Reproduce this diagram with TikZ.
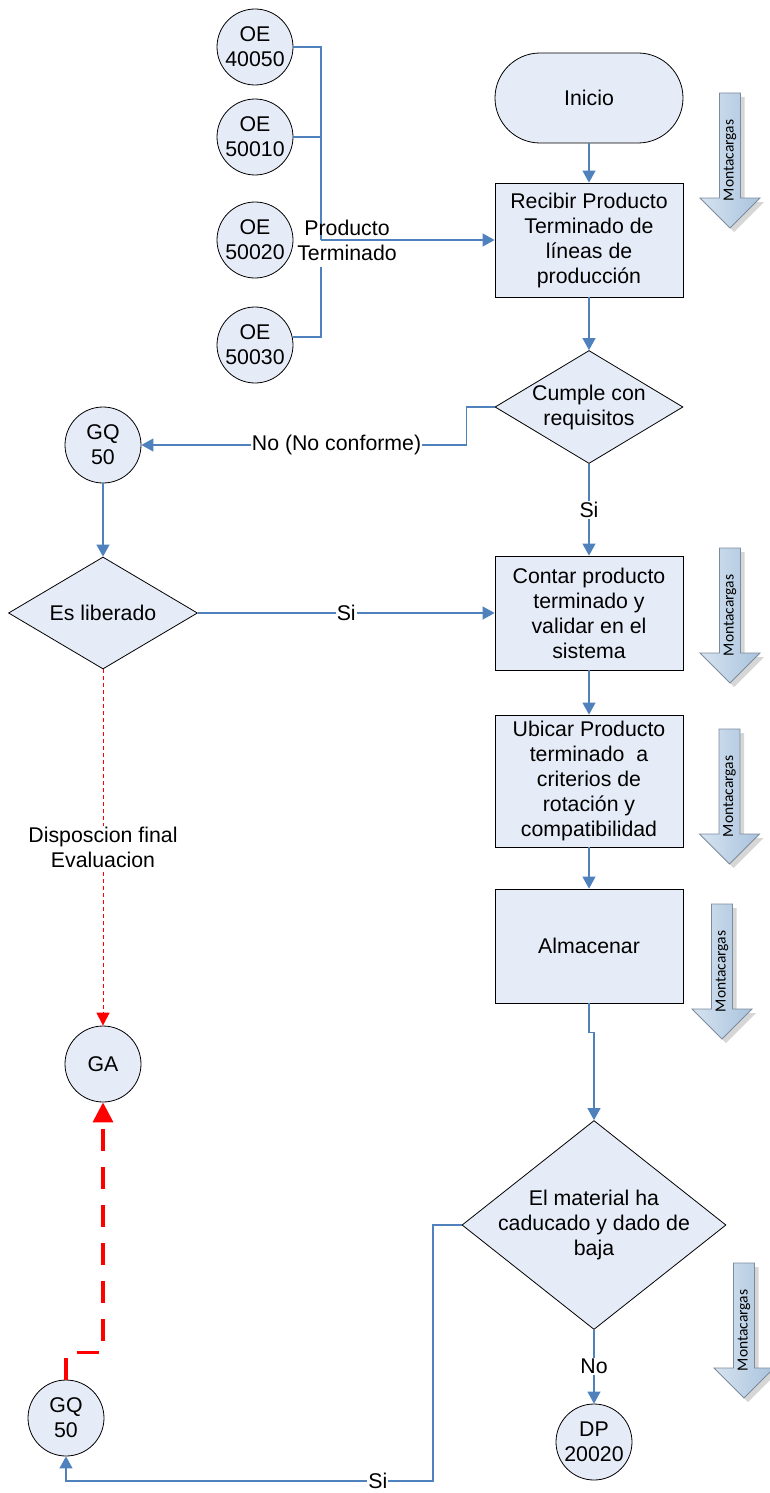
\documentclass[tikz,border=0pt]{standalone}
\usepackage{fontspec}
\setmainfont{Liberation Sans}
\newfontfamily\carlito{Carlito}
\usetikzlibrary{shapes.geometric,arrows.meta}

\definecolor{nodefill}{HTML}{E6ECF7}
\definecolor{flowblue}{HTML}{4F81BD}
\definecolor{arrowL}{HTML}{D6E3F0}
\definecolor{arrowR}{HTML}{A9C3DD}
\definecolor{arrowEdge}{HTML}{7D8C9C}

\tikzset{
  txt/.style={font=\fontsize{21.3}{25}\selectfont, align=center},
  proc/.style={txt, draw=black, line width=0.8pt, fill=nodefill,
    minimum width=188pt, inner sep=0pt},
  term/.style={proc, rounded corners=45pt, minimum height=90pt},
  conn/.style={txt, circle, draw=black, line width=0.8pt, fill=nodefill,
    minimum size=76pt, inner sep=0pt},
  dec/.style={diamond, draw=black, line width=0.8pt, fill=nodefill,
    inner sep=0pt, aspect=1},
  flow/.style={draw=flowblue, line width=1.1pt,
    -{Triangle[length=12pt,width=13pt]}},
  plain/.style={draw=flowblue, line width=1.1pt},
  elbl/.style={txt, fill=white, inner sep=1pt},
  reject/.style={draw=red, line width=0.9pt, dash pattern=on 4pt off 3pt,
    -{Triangle[length=13pt,width=13pt]}},
  scrap/.style={draw=red, line width=3.5pt, dash pattern=on 22pt off 16pt,
    -{Triangle[length=20pt,width=20pt]}},
  montacargas/.pic={
    \fill[black, opacity=0.16, shift={(4,4)}]
      (-10.5,0) -- (10.5,0) -- (10.5,105) -- (30,105) -- (0,135)
      -- (-30,105) -- (-10.5,105) -- cycle;
    \draw[arrowEdge, line width=0.8pt, left color=arrowL, right color=arrowR]
      (-10.5,0) -- (10.5,0) -- (10.5,105) -- (30,105) -- (0,135)
      -- (-30,105) -- (-10.5,105) -- cycle;
    \node[rotate=90, inner sep=0pt, font=\carlito\fontsize{15.5}{18}\selectfont]
      at (0,67.5) {Montacargas};
  }
}

\begin{document}
\begin{tikzpicture}[x=1pt, y=-1pt]
\useasboundingbox (0,0) rectangle (770,1493);

% main flow
\node[term] (inicio) at (589,98) {Inicio};
\node[proc, minimum height=114pt] (recibir) at (589,240)
  {Recibir Producto\\Terminado de\\líneas de\\producción};
\node[dec, minimum width=188pt, minimum height=113pt,
  label={[txt]center:{Cumple con\\requisitos}}] (cumple) at (589,407) {};
\node[proc, minimum height=114pt] (contar) at (589,613)
  {Contar producto\\terminado y\\validar en el\\sistema};
\node[proc, minimum height=132pt] (ubicar) at (589,781)
  {Ubicar Producto\\terminado\ \ a\\criterios de\\rotación y\\compatibilidad};
\node[proc, minimum height=114pt] (almacenar) at (589,946) {Almacenar};
\node[dec, minimum width=264pt, minimum height=209pt,
  label={[txt]center:{El material ha\\caducado y dado de\\baja}}] (caduca) at (594,1225) {};
\node[conn] (dp) at (594,1442) {DP\\20020};

% production lines
\node[conn] (oe1) at (255,47) {OE\\40050};
\node[conn] (oe2) at (255,137) {OE\\50010};
\node[conn] (oe3) at (255,240) {OE\\50020};
\node[conn] (oe4) at (255,345) {OE\\50030};

% non-conforming branch
\node[conn] (gqa) at (103,445) {GQ\\50};
\node[dec, minimum width=189pt, minimum height=112pt,
  label={[txt]center:Es liberado}] (libera) at (103,613) {};
\node[conn] (ga) at (103,1064) {GA};
\node[conn] (gqb) at (66,1418) {GQ\\50};

% forklift markers
\pic at (730,93) {montacargas};
\pic at (730,548) {montacargas};
\pic at (729.5,729) {montacargas};
\pic at (722,904) {montacargas};
\pic at (744,1263) {montacargas};

% collector from the production lines
\coordinate (bus) at (321,240);
\coordinate (busEnd) at (321,267);
\draw[plain] (oe1.east) -| (bus);
\draw[plain] (oe2.east) -- (oe2.east -| bus);
\draw[plain] (oe4.12) -| (busEnd);
\draw[flow] (bus) -- (recibir.west);
\node[txt] (ptlbl) at (347,240) {Producto\\Terminado};

% connectors
\draw[flow] (inicio) -- (recibir);
\draw[flow] (recibir) -- (cumple);
\draw[flow] (cumple) -- node[elbl]{Si} (contar);
\draw[flow] (cumple.west) -- ++(-28,0) |- node[elbl, pos=0.7]{No (No conforme)} (gqa.east);
\draw[flow] (gqa) -- (libera);
\draw[flow] (libera) -- node[elbl]{Si} (contar);
\draw[flow] (contar) -- (ubicar);
\draw[flow] (ubicar) -- (almacenar);
\draw[flow] (almacenar.south) -- ++(0,29) -| (caduca.north);
\draw[flow] (caduca) -- node[elbl]{No} (dp);
\coordinate (siTurn) at (433,1481);
\draw[flow] (caduca.west) -| (siTurn) -| node[elbl, pos=0.075]{Si} (gqb.south);

% disposal paths
\draw[reject] (libera) -- node[elbl]{Disposcion final\\Evaluacion} (ga);
\draw[scrap] (gqb.north) -- ++(0,-27) -| (ga.south);
\end{tikzpicture}
\end{document}
